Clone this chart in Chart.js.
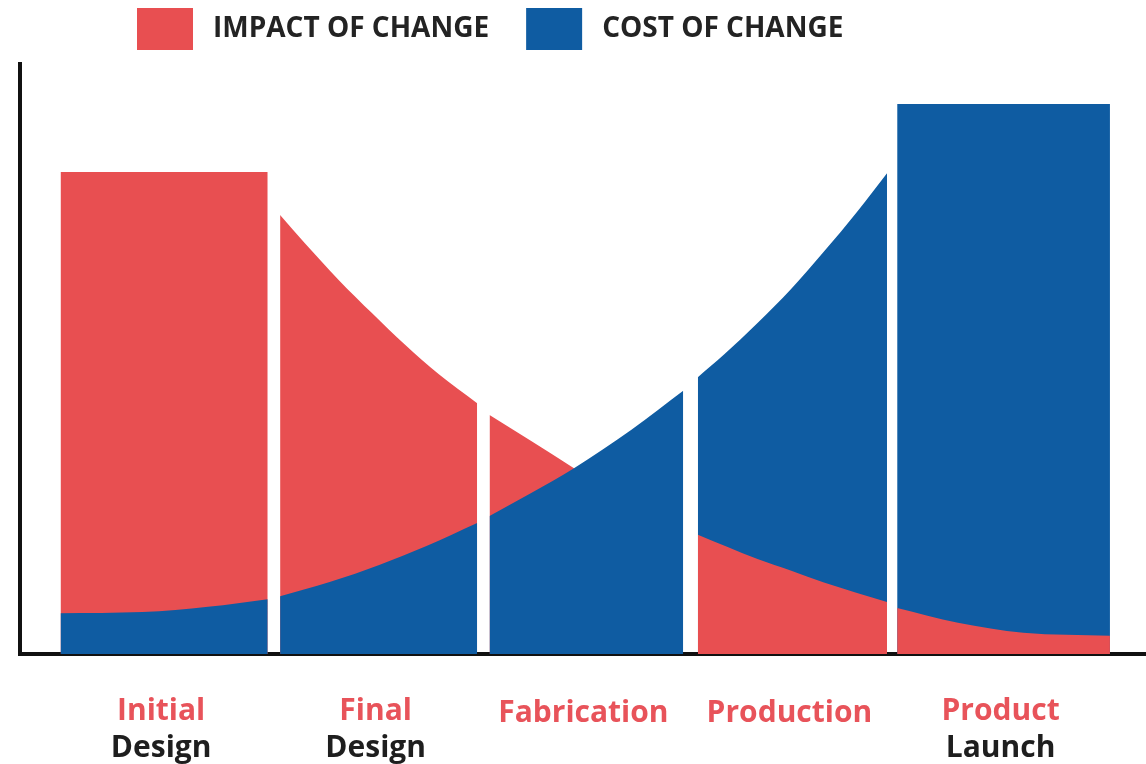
<!DOCTYPE html>
<html lang="en">

<head>
    <meta charset="UTF-8">
    <meta name="viewport" content="width=device-width, initial-scale=1.0">
    <title>Impact vs Cost of Change</title>
    <script src="https://cdn.jsdelivr.net/npm/chart.js@4/dist/chart.umd.min.js"></script>
</head>
<style>
    body {
        margin: 0;
        background: #fff;
    }

    #wrap {
        width: 1146px;
        height: 764px;
        position: relative;
    }
</style>

<body>
    <div id="wrap">
        <canvas id="mychart"></canvas>
    </div>

    <script>
        // stage names, first line (red) and second line (dark)
        const stageTop = ["Initial", "Final", "Fabrication", "Production", "Product"]
        const stageBottom = ["Design", "Design", "", "", "Launch"]

        // where each stage column sits on the timeline (0..100)
        const colStart = [3.6, 23.1, 41.7, 60.2, 77.9]
        const colEnd = [22.0, 40.6, 58.9, 77.0, 96.8]

        // impact of change, sampled per stage
        const impactX = [
            [3.6, 22.0],
            [23.1, 25.3, 28.3, 31.3, 34.2, 37.2, 40.6],
            [41.7, 45.4, 49.2],
            [60.2, 65.5, 68.5, 71.4, 77.0],
            [77.9, 83.3, 89.1, 96.8]
        ]
        const impactY = [
            [81.7, 81.7],
            [74.4, 69.6, 63.4, 57.7, 52.4, 47.4, 42.5],
            [40.5, 36.1, 31.5],
            [20.2, 16.1, 14.1, 12.1, 8.8],
            [7.8, 5.3, 3.6, 3.1]
        ]

        // cost of change, sampled per stage
        const costX = [
            [3.6, 10.9, 16.7, 22.0],
            [23.1, 27.5, 31.9, 36.1, 40.6],
            [41.7, 45.4, 49.2, 54.3, 58.9],
            [60.2, 62.5, 65.5, 68.5, 71.4, 74.4, 77.0],
            [77.9, 96.8]
        ]
        const costY = [
            [6.9, 7.1, 8.0, 9.3],
            [9.8, 12.2, 15.1, 18.3, 22.2],
            [23.4, 27.3, 31.5, 38.0, 44.6],
            [46.9, 50.7, 56.1, 61.9, 68.2, 75.1, 81.5],
            [93.2, 93.2]
        ]

        // which series is painted on top in each stage
        const frontSeries = ["cost", "cost", "cost", "impact", "impact"]

        const RED = "#E84F51"
        const BLUE = "#0F5CA2"
        const LABEL_RED = "#E8535A"
        const DARK = "#1E1E1E"
        const FONT = "'Open Sans', 'Noto Sans', sans-serif"

        function pts(xs, ys) {
            return xs.map(function (x, i) { return { x: x, y: ys[i] } })
        }

        var datasets = []
        for (let i = 0; i < stageTop.length; i++) {
            datasets.push({
                label: "Impact of change",
                data: pts(impactX[i], impactY[i]),
                backgroundColor: RED,
                borderColor: "rgba(0,0,0,0)",
                borderWidth: 0,
                fill: "origin",
                order: frontSeries[i] == "impact" ? 0 : 1
            })
            datasets.push({
                label: "Cost of change",
                data: pts(costX[i], costY[i]),
                backgroundColor: BLUE,
                borderColor: "rgba(0,0,0,0)",
                borderWidth: 0,
                fill: "origin",
                order: frontSeries[i] == "cost" ? 0 : 1
            })
        }

        // legend drawn by hand so it can sit left of centre
        const legendItems = [
            { text: "IMPACT OF CHANGE", color: RED },
            { text: "COST OF CHANGE", color: BLUE }
        ]
        const legendPlugin = {
            id: "boxLegend",
            afterDraw(chart) {
                const ctx = chart.ctx
                ctx.save()
                ctx.font = "bold 28px " + FONT
                ctx.textBaseline = "middle"
                ctx.textAlign = "left"
                let x = 137
                legendItems.forEach(function (it) {
                    ctx.fillStyle = it.color
                    ctx.fillRect(x, 8, 56, 42)
                    x += 56 + 20
                    ctx.fillStyle = "#232323"
                    ctx.fillText(it.text, x, 29)
                    x += ctx.measureText(it.text).width + 37
                })
                ctx.restore()
            }
        }

        // two-line stage labels under each column
        const stageLabels = {
            id: "stageLabels",
            afterDraw(chart) {
                const ctx = chart.ctx
                const xs = chart.scales.x
                const base = chart.chartArea.bottom
                ctx.save()
                ctx.font = "bold 30px " + FONT
                ctx.textAlign = "center"
                ctx.textBaseline = "middle"
                for (let i = 0; i < stageTop.length; i++) {
                    const cx = (xs.getPixelForValue(colStart[i]) + xs.getPixelForValue(colEnd[i])) / 2 - 3
                    ctx.fillStyle = LABEL_RED
                    ctx.fillText(stageTop[i], cx, base + (stageBottom[i] ? 57 : 59))
                    if (stageBottom[i]) {
                        ctx.fillStyle = DARK
                        ctx.fillText(stageBottom[i], cx, base + 94)
                    }
                }
                ctx.restore()
            }
        }

        new Chart(document.getElementById("mychart"), {
            type: "line",
            data: { datasets: datasets },
            plugins: [legendPlugin, stageLabels],
            options: {
                responsive: true,
                maintainAspectRatio: false,
                animation: false,
                layout: {
                    padding: { top: 64, left: 12, right: 0, bottom: 102 }
                },
                elements: {
                    point: { radius: 0, hoverRadius: 0 },
                    line: { cubicInterpolationMode: "monotone" }
                },
                scales: {
                    x: {
                        type: "linear",
                        min: 0,
                        max: 100,
                        grid: { display: false },
                        ticks: { display: false },
                        border: { display: true, color: "#111", width: 4 }
                    },
                    y: {
                        min: 0,
                        max: 100,
                        grid: { display: false },
                        ticks: { display: false },
                        border: { display: true, color: "#111", width: 4 }
                    }
                },
                plugins: {
                    legend: { display: false },
                    tooltip: { enabled: false }
                }
            }
        })
    </script>
</body>

</html>
